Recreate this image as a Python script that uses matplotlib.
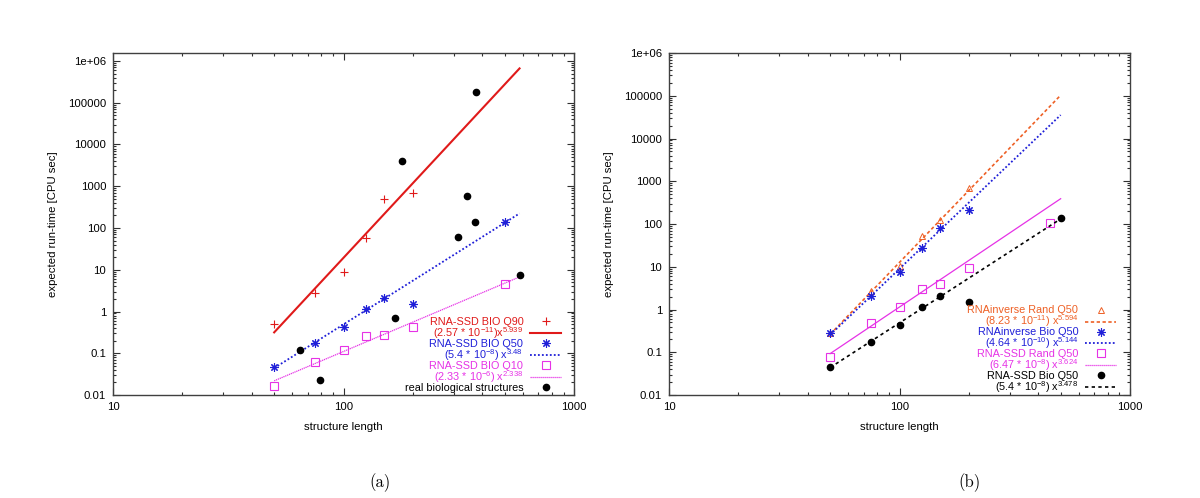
import numpy as np
import matplotlib
matplotlib.use("Agg")
import matplotlib.pyplot as plt
from matplotlib.lines import Line2D
from matplotlib.ticker import FuncFormatter, LogLocator, NullFormatter

plt.rcParams['font.family'] = ['Liberation Sans', 'DejaVu Sans']
plt.rcParams['mathtext.fontset'] = 'cm'

# ---- panel (a) data ----
q_len = [50, 75, 100, 125, 150, 200, 500]
q90_len = [50, 75, 100, 125, 150, 200]
q90_time = [0.5, 2.8, 8.8, 57, 490, 680]
q50_time = [0.046, 0.173, 0.43, 1.13, 2.07, 1.49, 137]
q10_time = [0.0165, 0.062, 0.12, 0.26, 0.28, 0.42, 4.6]
bio_len = [65, 79, 167, 180, 314, 342, 372, 376, 580]
bio_time = [0.117, 0.023, 0.69, 3960, 61, 574, 142, 184000, 7.5]

# fits (coef, exponent) as printed in the key
fit_a = {"q90": (2.57e-11, 5.939), "q50": (5.4e-8, 3.48), "q10": (2.33e-6, 2.338)}
fit_a_range = [50, 580]

# ---- panel (b) data ----
b_len = [50, 75, 100, 125, 150, 200]
inv_rand = [0.28, 2.75, 10.5, 52, 124, 684]
inv_bio = [0.277, 2.04, 7.4, 28, 79, 212]
ssd_rand_len = [50, 75, 100, 125, 150, 200, 451]
ssd_rand = [0.079, 0.49, 1.12, 3.07, 4.0, 9.5, 107]
ssd_bio_len = [50, 75, 100, 125, 150, 200, 500]
ssd_bio = [0.046, 0.173, 0.43, 1.13, 2.07, 1.49, 137]

fit_b = {"inv_rand": (8.23e-11, 5.594), "inv_bio": (4.64e-10, 5.144),
         "ssd_rand": (6.47e-8, 3.624), "ssd_bio": (5.4e-8, 3.478)}
fit_b_range = [50, 500]

RED = '#e01a1a'
BLUE = '#1f1fd8'
MAG = '#e632e6'
ORANGE = '#ee6025'
BLACK = 'black'
AST = (8, 2, 0)
LEGFS = 7.8


def powerline(coef, rng):
    x = np.array(rng, dtype=float)
    return x, coef[0] * x ** coef[1]


def style_axes(ax, ymax):
    ax.set_xscale('log')
    ax.set_yscale('log')
    ax.set_xlim(10, 1000)
    ax.set_ylim(0.01, ymax)
    ax.yaxis.set_major_locator(LogLocator(base=10, numticks=20))
    ax.yaxis.set_minor_locator(LogLocator(base=10, subs=np.arange(2, 10), numticks=20))
    ax.yaxis.set_minor_formatter(NullFormatter())
    ax.xaxis.set_minor_formatter(NullFormatter())
    ylab = {0.01: '0.01', 0.1: '0.1', 1: '1', 10: '10', 100: '100', 1000: '1000',
            1e4: '10000', 1e5: '100000', 1e6: '1e+06'}
    ax.yaxis.set_major_formatter(FuncFormatter(
        lambda v, p: min(ylab.items(), key=lambda kv: abs(np.log10(kv[0]) - np.log10(v)))[1]))
    ax.xaxis.set_major_formatter(FuncFormatter(lambda v, p: '%d' % round(v)))
    ax.tick_params(which='both', direction='in', top=True, right=True, labelsize=8.2,
                   color='#303030', width=0.8)
    ax.tick_params(which='major', length=5, pad=5)
    ax.tick_params(which='minor', length=2.5)
    for s in ax.spines.values():
        s.set_color('#404040')
        s.set_linewidth(1.0)
    ax.set_xlabel('structure length', fontsize=8.2, labelpad=7)
    ax.set_ylabel('expected run-time [CPU sec]', fontsize=8.2, labelpad=7)


def key(ax, handles, labels, colors, anchor):
    leg = ax.legend(handles, labels, loc='lower right', bbox_to_anchor=anchor,
                    frameon=False, markerfirst=False, fontsize=LEGFS,
                    handlelength=2.85, handletextpad=0.65, labelspacing=-0.18,
                    borderaxespad=0, borderpad=0)
    for t, c in zip(leg.get_texts(), colors):
        t.set_color(c)


fig = plt.figure(figsize=(12, 4.98), dpi=100)
ax1 = fig.add_axes([0.0942, 0.2068, 0.3842, 0.6867])
ax2 = fig.add_axes([0.5575, 0.2068, 0.3842, 0.6867])

# ---- panel (a) ----
ax1.plot(q90_len, q90_time, ls='none', marker='+', ms=6, mew=0.8, color=RED)
x, y = powerline(fit_a["q90"], fit_a_range)
ax1.plot(x, y, color=RED, lw=1.5)
ax1.plot(q_len, q50_time, ls='none', marker=AST, ms=6, mew=0.8, color=BLUE)
x, y = powerline(fit_a["q50"], fit_a_range)
ax1.plot(x, y, color=BLUE, lw=1.3, ls=(0, (1, 1.2)))
ax1.plot(q_len, q10_time, ls='none', marker='s', ms=6, mew=0.8, mfc='none', color=MAG)
x, y = powerline(fit_a["q10"], fit_a_range)
ax1.plot(x, y, color=MAG, lw=0.9, ls=(0, (1, 0.6)))
ax1.plot(bio_len, bio_time, ls='none', marker='o', ms=4.5, color=BLACK)
style_axes(ax1, 1.55e6)

h1 = [Line2D([], [], ls='none', marker='+', ms=6, mew=0.8, color=RED),
      Line2D([], [], color=RED, lw=1.5),
      Line2D([], [], ls='none', marker=AST, ms=6, mew=0.8, color=BLUE),
      Line2D([], [], color=BLUE, lw=1.3, ls=(0, (1, 1.2))),
      Line2D([], [], ls='none', marker='s', ms=6, mew=0.8, mfc='none', color=MAG),
      Line2D([], [], color=MAG, lw=0.9, ls=(0, (1, 0.6))),
      Line2D([], [], ls='none', marker='o', ms=4.5, color=BLACK)]
l1 = ['RNA-SSD BIO Q90',
      r'(2.57 * 10$\mathregular{^{-11}}$)x$\mathregular{^{5.939}}$',
      'RNA-SSD BIO Q50',
      r'(5.4 * 10$\mathregular{^{-8}}$) x$\mathregular{^{3.48}}$',
      'RNA-SSD BIO Q10',
      r'(2.33 * 10$\mathregular{^{-6}}$) x$\mathregular{^{2.338}}$',
      'real biological structures']
c1 = [RED, RED, BLUE, BLUE, MAG, MAG, BLACK]
key(ax1, h1, l1, c1, (0.972, 0.006))

# ---- panel (b) ----
ax2.plot(b_len, inv_rand, ls='none', marker='^', ms=4.5, mew=0.7, mfc='none', color=ORANGE)
x, y = powerline(fit_b["inv_rand"], fit_b_range)
ax2.plot(x, y, color=ORANGE, lw=1.2, ls=(0, (2, 1.5)))
ax2.plot(b_len, inv_bio, ls='none', marker=AST, ms=6, mew=0.8, color=BLUE)
x, y = powerline(fit_b["inv_bio"], fit_b_range)
ax2.plot(x, y, color=BLUE, lw=1.3, ls=(0, (1, 1.2)))
ax2.plot(ssd_rand_len, ssd_rand, ls='none', marker='s', ms=6, mew=0.8, mfc='none', color=MAG)
x, y = powerline(fit_b["ssd_rand"], fit_b_range)
ax2.plot(x, y, color=MAG, lw=0.9)
ax2.plot(ssd_bio_len, ssd_bio, ls='none', marker='o', ms=4.5, color=BLACK)
x, y = powerline(fit_b["ssd_bio"], fit_b_range)
ax2.plot(x, y, color=BLACK, lw=1.2, ls=(0, (2, 2)))
style_axes(ax2, 1e6)

h2 = [Line2D([], [], ls='none', marker='^', ms=4.5, mew=0.7, mfc='none', color=ORANGE),
      Line2D([], [], color=ORANGE, lw=1.2, ls=(0, (2, 1.5))),
      Line2D([], [], ls='none', marker=AST, ms=6, mew=0.8, color=BLUE),
      Line2D([], [], color=BLUE, lw=1.3, ls=(0, (1, 1.2))),
      Line2D([], [], ls='none', marker='s', ms=6, mew=0.8, mfc='none', color=MAG),
      Line2D([], [], color=MAG, lw=0.9, ls=(0, (1, 0.6))),
      Line2D([], [], ls='none', marker='o', ms=4.5, color=BLACK),
      Line2D([], [], color=BLACK, lw=1.2, ls=(0, (2, 2)))]
l2 = ['RNAinverse Rand Q50',
      r'(8.23 * 10$\mathregular{^{-11}}$) x$\mathregular{^{5.594}}$',
      'RNAinverse Bio Q50',
      r'(4.64 * 10$\mathregular{^{-10}}$) x$\mathregular{^{5.144}}$',
      'RNA-SSD Rand Q50',
      r'(6.47 * 10$\mathregular{^{-8}}$) x$\mathregular{^{3.624}}$',
      'RNA-SSD Bio Q50',
      r'(5.4 * 10$\mathregular{^{-8}}$) x$\mathregular{^{3.478}}$']
c2 = [ORANGE, ORANGE, BLUE, BLUE, MAG, MAG, BLACK, BLACK]
key(ax2, h2, l2, c2, (0.970, 0.0))

fig.text(0.317, 0.03, '(a)', fontfamily='cmr10', fontsize=12, ha='center', va='center')
fig.text(0.808, 0.03, '(b)', fontfamily='cmr10', fontsize=12, ha='center', va='center')

fig.savefig('out.png', dpi=100)
